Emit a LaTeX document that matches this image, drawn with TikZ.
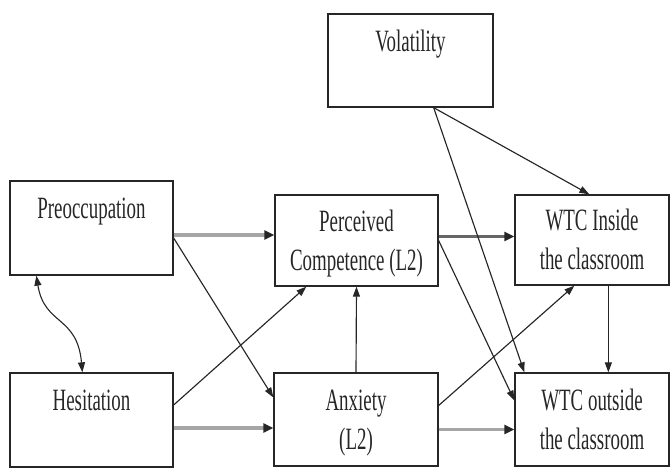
\documentclass[tikz,border=0pt]{standalone}
\usepackage{fontspec}
\setmainfont{Liberation Serif}[FakeStretch=0.61]
\usetikzlibrary{arrows.meta,calc}
\newcommand\boxtopstrut{\rule{0pt}{32pt}}

\begin{document}
\begin{tikzpicture}[x=1pt,y=-1pt,
  varbox/.style={draw=black!85,line width=1.3pt,inner sep=0pt,align=center,
    font=\fontsize{31}{39}\selectfont,text=black!85},
  path/.style={draw=black!85,line width=1.15pt,
    -{Triangle[length=10pt,width=7pt]}},
  mainpath/.style={draw=black!35,line width=3.6pt,
    -{Triangle[length=10pt,width=9pt,color=black!85]}},
  darkpath/.style={draw=black!60,line width=2.6pt,
    -{Triangle[length=10pt,width=9pt,color=black!85]}},
  corr/.style={draw=black!85,line width=1.1pt,
    {Triangle[length=10pt,width=7pt]}-{Triangle[length=10pt,width=7pt]}}]

\useasboundingbox (0,0) rectangle (671,470);

% constructs
\node[varbox,minimum width=163pt,minimum height=94pt] (pre) at (91.5,228) {\boxtopstrut Preoccupation\\\strut};
\node[varbox,minimum width=163pt,minimum height=94pt] (hes) at (91.5,420) {\boxtopstrut Hesitation\\\strut};
\node[varbox,minimum width=165pt,minimum height=93pt] (vol) at (410.5,60.5) {\boxtopstrut Volatility\\\strut};
\node[varbox,minimum width=163pt,minimum height=91pt] (perc) at (356.5,240.5) {\boxtopstrut Perceived\\Competence (L2)\strut};
\node[varbox,minimum width=164pt,minimum height=93pt] (anx) at (356,419.5) {\boxtopstrut Anxiety\\(L2)\strut};
\node[varbox,minimum width=154pt,minimum height=90pt] (wtci) at (592,240) {\boxtopstrut WTC Inside\\the classroom\strut};
\node[varbox,minimum width=154pt,minimum height=93pt] (wtco) at (592,419.5) {\boxtopstrut WTC outside\\the classroom\strut};

% horizontal main paths
\coordinate (a1) at ($(pre.east)+(0,7)$);
\draw[mainpath] (a1) -- (a1 -| perc.west);
\coordinate (a2) at ($(hes.east)+(0,8)$);
\draw[mainpath] (a2) -- (a2 -| anx.west);
\coordinate (a3) at ($(perc.east)+(0,-4)$);
\draw[darkpath] (a3) -- (a3 -| wtci.west);
\coordinate (a4) at ($(anx.east)+(0,10)$);
\draw[mainpath] (a4) -- (a4 -| wtco.west);

% cross paths
\draw[path] ($(pre.east)+(0,10)$) -- ($(anx.west)+(0,-22)$);
\draw[path] ($(hes.east)+(0,-15)$) -- ($(perc.south west)+(32,0)$);
\draw[path] (anx.north) -- (perc.south);
\draw[path] (perc.east) -- ($(wtco.west)+(0,-19)$);
\coordinate (v) at ($(vol.south east)+(-60,0)$);
\draw[path] (v) -- ($(wtci.north west)+(75,0)$);
\draw[path] (v) -- ($(wtco.north west)+(10,0)$);
\draw[path] ($(anx.east)+(0,-14)$) -- ($(wtci.south west)+(60,0)$);
\draw[path] ($(wtci.south west)+(94,0)$) -- ($(wtco.north west)+(94,0)$);

% correlation
\draw[corr] ($(pre.south west)+(27,0)$) .. controls +(8,50) and +(-5,-57) .. ($(hes.north west)+(73,0)$);
\end{tikzpicture}
\end{document}
